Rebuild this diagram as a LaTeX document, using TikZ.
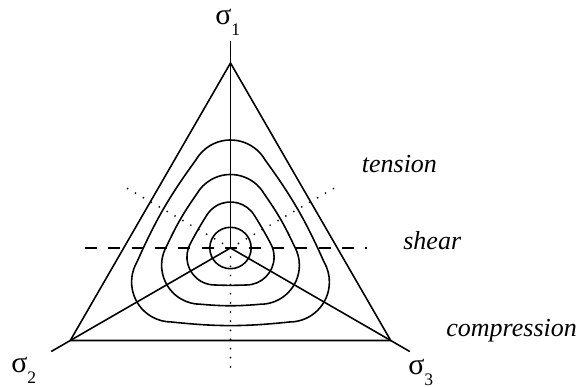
\documentclass[tikz,border=0pt]{standalone}
\usepackage{fontspec}
\setmainfont{Liberation Serif}
\usetikzlibrary{calc}

\begin{document}
\begin{tikzpicture}[
    axis/.style={line width=0.9pt},
    curve/.style={line width=0.9pt},
    shearline/.style={line width=0.9pt, dash pattern=on 6.8pt off 6.5pt},
    dotline/.style={line width=1.1pt, line cap=round, dash pattern=on 0pt off 5.2pt},
    lbl/.style={inner sep=0pt, anchor=base west, font=\fontsize{17}{19}\selectfont},
    state/.style={lbl, font=\fontsize{14.8}{17}\selectfont\itshape}]
  \useasboundingbox (-4.61,-2.78) rectangle (6.99,4.96);
  % --- centre, vertices and axis ends ---
  \coordinate (O) at (0,0);
  \coordinate (v1) at (90:3.7);
  \coordinate (v2) at (210:3.7);
  \coordinate (v3) at (330:3.7);
  \coordinate (e1) at (90:4.14);
  \coordinate (e2) at (210:4.14);
  \coordinate (e3) at (330:4.14);
  % --- principal axes ---
  \draw[axis] (O) -- (e1);
  \draw[axis] (O) -- (e2);
  \draw[axis] (O) -- (e3);
  % --- triangle ---
  \draw[axis] (v1) -- (v2) -- (v3) -- cycle;
  % --- inner circle ---
  \draw[curve] (O) circle (0.414);
  % --- rounded triangles (inradius / corner radius / bulge) ---
  \foreach \d/\r/\b in {0.74/0.56/2, 1.125/0.78/5, 1.48/0.8/6} {
    \draw[curve] ($(O)+(90:{2*(\d-\r)})+(30:\r)$)
      arc[start angle=30, end angle=150, radius=\r]
      to[bend right=\b] ($(O)+(210:{2*(\d-\r)})+(150:\r)$)
      arc[start angle=150, end angle=270, radius=\r]
      to[bend right=\b] ($(O)+(330:{2*(\d-\r)})+(270:\r)$)
      arc[start angle=270, end angle=390, radius=\r]
      to[bend right=\b] cycle;
  }
  % --- shear line ---
  \coordinate (shL) at (-2.91,0);
  \coordinate (shR) at (2.73,0);
  \draw[shearline] (shL) -- (shR);
  % --- dotted lines opposite the axes ---
  \foreach \a in {30,150,270} {
    \draw[dotline] ($(O)+(\a:0.184)$) -- ($(O)+(\a:2.4)$);
  }
  % --- labels ---
  \node[lbl] (s1) at (-0.31,4.46) {σ\raisebox{-0.36em}{\fontsize{10}{11}\selectfont 1}};
  \node[lbl] (s2) at (-4.39,-2.5) {σ\raisebox{-0.36em}{\fontsize{10}{11}\selectfont 2}};
  \node[lbl] (s3) at (3.55,-2.54) {σ\raisebox{-0.36em}{\fontsize{10}{11}\selectfont 3}};
  \node[state] (tens) at (2.62,1.5) {tension};
  \node[state] (shear) at (3.45,-0.04) {shear};
  \node[state] (comp) at (4.31,-1.78) {compression};
\end{tikzpicture}
\end{document}
